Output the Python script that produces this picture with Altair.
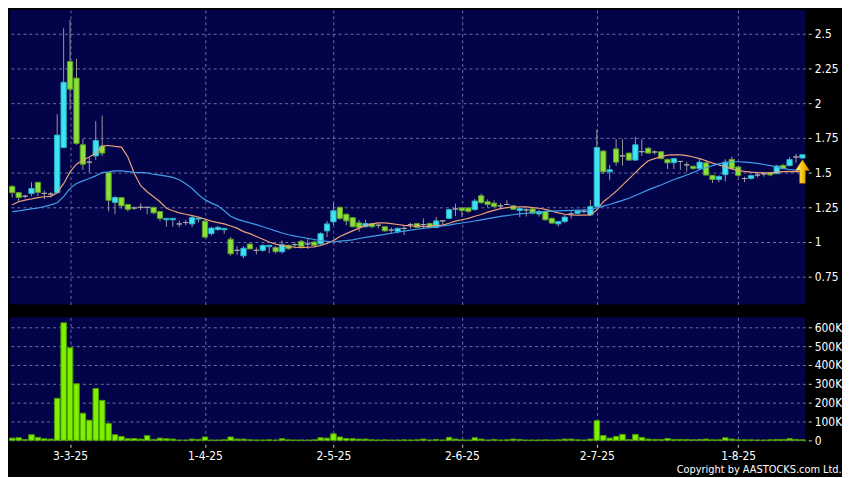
import altair as alt
import pandas as pd

# ---------------- data ----------------
opens = [1.40, 1.355, 1.33, 1.35, 1.43, 1.35, 1.345, 1.355, 1.68, 2.30,
         2.18, 1.70, 1.575, 1.62, 1.69, 1.50, 1.285, 1.32, 1.27, 1.245,
         1.25, 1.25, 1.25, 1.22, 1.16, 1.16, 1.13, 1.14, 1.13, 1.165,
         1.15, 1.06, 1.09, 1.088, 1.02, 0.94, 0.90, 0.985, 0.94, 0.94,
         0.966, 0.96, 0.93, 0.976, 0.981, 1.005, 0.986, 1.0, 0.986, 1.08,
         1.145, 1.25, 1.20, 1.175, 1.138, 1.11, 1.133, 1.121, 1.11, 1.086,
         1.075, 1.098, 1.126, 1.133, 1.126, 1.133, 1.105, 1.152, 1.17, 1.238,
         1.245, 1.245, 1.233, 1.333, 1.29, 1.28, 1.26, 1.27, 1.26, 1.226,
         1.231, 1.238, 1.202, 1.22, 1.17, 1.13, 1.148, 1.202, 1.207, 1.22,
         1.195, 1.255, 1.655, 1.505, 1.67, 1.62, 1.64, 1.59, 1.65, 1.675,
         1.648, 1.65, 1.595, 1.571, 1.58, 1.555, 1.545, 1.528, 1.57, 1.48,
         1.45, 1.485, 1.595, 1.54, 1.457, 1.458, 1.482, 1.49, 1.5, 1.492,
         1.552, 1.55, 1.612, 1.605]
highs = [1.41, 1.36, 1.34, 1.43, 1.43, 1.37, 1.36, 1.92, 2.54, 2.60,
         2.32, 1.74, 1.61, 1.87, 1.91, 1.50, 1.33, 1.32, 1.27, 1.255,
         1.28, 1.25, 1.25, 1.22, 1.17, 1.17, 1.155, 1.16, 1.188, 1.18,
         1.16, 1.11, 1.115, 1.10, 1.036, 0.969, 0.969, 0.99, 0.962, 0.985,
         0.98, 0.97, 1.01, 0.98, 1.0, 1.015, 1.02, 1.01, 1.07, 1.152,
         1.28, 1.255, 1.205, 1.18, 1.157, 1.16, 1.135, 1.133, 1.115, 1.105,
         1.105, 1.114, 1.138, 1.138, 1.17, 1.14, 1.18, 1.157, 1.24, 1.276,
         1.25, 1.25, 1.31, 1.348, 1.307, 1.30, 1.28, 1.30, 1.267, 1.245,
         1.243, 1.245, 1.233, 1.225, 1.175, 1.15, 1.195, 1.23, 1.23, 1.235,
         1.302, 1.81, 1.66, 1.555, 1.74, 1.74, 1.645, 1.757, 1.74, 1.685,
         1.66, 1.655, 1.60, 1.605, 1.585, 1.578, 1.55, 1.60, 1.59, 1.483,
         1.48, 1.595, 1.614, 1.545, 1.47, 1.485, 1.5, 1.505, 1.505, 1.555,
         1.56, 1.61, 1.635, 1.63]
lows = [1.32, 1.29, 1.315, 1.33, 1.33, 1.31, 1.32, 1.35, 1.68, 1.95,
        1.70, 1.52, 1.50, 1.59, 1.62, 1.22, 1.20, 1.24, 1.22, 1.23,
        1.23, 1.20, 1.20, 1.15, 1.11, 1.11, 1.107, 1.12, 1.107, 1.14,
        1.03, 1.045, 1.08, 1.06, 0.902, 0.907, 0.883, 0.95, 0.91, 0.93,
        0.92, 0.917, 0.917, 0.945, 0.955, 0.965, 0.95, 0.97, 0.975, 1.036,
        1.12, 1.16, 1.12, 1.105, 1.074, 1.105, 1.10, 1.098, 1.074, 1.062,
        1.062, 1.05, 1.098, 1.10, 1.098, 1.10, 1.098, 1.12, 1.165, 1.186,
        1.18, 1.21, 1.226, 1.276, 1.25, 1.25, 1.236, 1.265, 1.23, 1.18,
        1.183, 1.20, 1.183, 1.155, 1.13, 1.112, 1.136, 1.17, 1.20, 1.205,
        1.188, 1.25, 1.49, 1.445, 1.55, 1.55, 1.585, 1.585, 1.62, 1.64,
        1.63, 1.598, 1.525, 1.525, 1.519, 1.507, 1.52, 1.52, 1.48, 1.424,
        1.43, 1.436, 1.52, 1.47, 1.43, 1.45, 1.465, 1.47, 1.475, 1.49,
        1.525, 1.545, 1.57, 1.60]
closes = [1.355, 1.32, 1.33, 1.385, 1.357, 1.35, 1.345, 1.77, 2.15, 2.10,
          1.71, 1.56, 1.575, 1.73, 1.64, 1.30, 1.32, 1.26, 1.235, 1.245,
          1.25, 1.25, 1.21, 1.17, 1.17, 1.17, 1.13, 1.14, 1.175, 1.172,
          1.035, 1.10, 1.105, 1.098, 0.915, 0.94, 0.955, 0.95, 0.94, 0.975,
          0.976, 0.93, 0.98, 0.952, 0.981, 0.967, 0.986, 0.976, 1.06, 1.13,
          1.225, 1.17, 1.152, 1.11, 1.105, 1.133, 1.11, 1.121, 1.08, 1.086,
          1.098, 1.098, 1.126, 1.105, 1.126, 1.105, 1.152, 1.152, 1.233, 1.238,
          1.226, 1.221, 1.295, 1.283, 1.27, 1.255, 1.26, 1.27, 1.236, 1.24,
          1.231, 1.207, 1.219, 1.16, 1.136, 1.148, 1.179, 1.202, 1.224, 1.22,
          1.255, 1.68, 1.505, 1.52, 1.575, 1.62, 1.59, 1.70, 1.65, 1.64,
          1.648, 1.60, 1.57, 1.60, 1.58, 1.555, 1.53, 1.575, 1.482, 1.45,
          1.472, 1.575, 1.53, 1.48, 1.457, 1.478, 1.482, 1.49, 1.483, 1.547,
          1.528, 1.593, 1.612, 1.628]
volumes_k = [12, 14, 5, 30, 16, 9, 7, 223, 623, 491,
             300, 144, 107, 275, 212, 89, 30, 21, 9, 10,
             7, 25, 5, 12, 9, 7, 2, 2, 7, 5,
             18, 2, 2, 3, 18, 7, 7, 3, 2, 2,
             3, 2, 9, 3, 2, 2, 2, 3, 14, 12,
             35, 18, 10, 9, 7, 7, 3, 2, 3, 2,
             2, 3, 2, 3, 7, 2, 5, 2, 16, 7,
             3, 2, 14, 7, 2, 5, 2, 3, 7, 5,
             2, 2, 2, 3, 2, 3, 7, 7, 3, 2,
             7, 105, 26, 12, 21, 32, 5, 32, 16, 7,
             5, 5, 10, 5, 5, 5, 3, 5, 7, 3,
             3, 14, 7, 3, 3, 3, 2, 2, 3, 5,
             5, 9, 5, 3]
ma_short = [1.268, 1.29, 1.302, 1.31, 1.32, 1.326, 1.328, 1.355, 1.42, 1.505,
            1.56, 1.588, 1.612, 1.64, 1.69, 1.695, 1.688, 1.683, 1.612, 1.493,
            1.405, 1.362, 1.326, 1.29, 1.243, 1.225, 1.21, 1.2, 1.19, 1.18,
            1.165, 1.15, 1.14, 1.13, 1.115, 1.1, 1.075, 1.06, 1.04, 1.02,
            1.0, 0.985, 0.975, 0.968, 0.962, 0.96, 0.962, 0.965, 0.975, 0.99,
            1.01, 1.04, 1.06, 1.08, 1.1, 1.118, 1.13, 1.138, 1.138, 1.132,
            1.126, 1.12, 1.116, 1.114, 1.112, 1.114, 1.118, 1.122, 1.135, 1.15,
            1.16, 1.17, 1.185, 1.198, 1.215, 1.228, 1.24, 1.248, 1.252, 1.254,
            1.253, 1.248, 1.243, 1.235, 1.222, 1.21, 1.2, 1.195, 1.193, 1.193,
            1.195, 1.23, 1.29, 1.325, 1.365, 1.41, 1.455, 1.5, 1.545, 1.585,
            1.60, 1.615, 1.625, 1.628, 1.628, 1.622, 1.612, 1.60, 1.585, 1.568,
            1.555, 1.54, 1.527, 1.515, 1.508, 1.503, 1.5, 1.498, 1.498, 1.503,
            1.507, 1.508, 1.507, 1.507]
ma_long = [1.219, 1.224, 1.231, 1.238, 1.245, 1.255, 1.267, 1.283, 1.326, 1.386,
           1.421, 1.44, 1.457, 1.476, 1.5, 1.505, 1.512, 1.512, 1.507, 1.502,
           1.5, 1.498, 1.488, 1.481, 1.474, 1.465, 1.448, 1.42, 1.385, 1.34,
           1.305, 1.28, 1.26, 1.225, 1.185, 1.165, 1.15, 1.138, 1.125, 1.11,
           1.095, 1.08, 1.065, 1.052, 1.042, 1.034, 1.026, 1.018, 1.01, 1.004,
           1.0, 1.006, 1.01, 1.015, 1.025, 1.033, 1.04, 1.048, 1.055, 1.063,
           1.07, 1.078, 1.086, 1.092, 1.098, 1.104, 1.109, 1.115, 1.122, 1.13,
           1.137, 1.144, 1.151, 1.159, 1.168, 1.176, 1.184, 1.19, 1.196, 1.202,
           1.207, 1.212, 1.216, 1.22, 1.222, 1.224, 1.226, 1.228, 1.229, 1.23,
           1.232, 1.245, 1.258, 1.27, 1.285, 1.3, 1.315, 1.335, 1.355, 1.375,
           1.393, 1.41, 1.43, 1.45, 1.465, 1.482, 1.5, 1.52, 1.535, 1.55,
           1.562, 1.572, 1.578, 1.578, 1.575, 1.572, 1.566, 1.558, 1.55, 1.54,
           1.53, 1.522, 1.518, 1.518]
tick_idx = [9, 30, 50, 70, 91, 113]
tick_labels = ["3-3-25", "1-4-25", "2-5-25", "2-6-25", "2-7-25", "1-8-25"]
price_ticks = [0.75, 1.0, 1.25, 1.5, 1.75, 2.0, 2.25, 2.5]
vol_ticks = [0, 100, 200, 300, 400, 500, 600]

# ---------------- table ----------------
n = len(closes)
df = pd.DataFrame({
    "i": list(range(n)), "open": opens, "high": highs, "low": lows,
    "close": closes, "vol": volumes_k, "ma_s": ma_short, "ma_l": ma_long,
})
df["dir"] = ["up" if c > o + 1e-9 else ("down" if c < o - 1e-9 else "flat")
             for o, c in zip(opens, closes)]

NAVY = "#030349"
GRID = "#6e6ea2"
FONT = "DejaVu Sans Condensed, DejaVu Sans"
W = 802

x_scale = alt.Scale(domain=[-0.35, n - 1 + 0.45], nice=False, zero=False)
top_x_axis = alt.Axis(values=tick_idx, labels=False, ticks=False, domain=False,
                      grid=True, gridColor=GRID, gridDash=[3, 3], gridWidth=1,
                      title=None)
label_expr = " : ".join(f"datum.value == {k} ? '{t}'" for k, t in zip(tick_idx, tick_labels)) + " : ''"
bot_x_axis = alt.Axis(values=tick_idx, labelExpr=label_expr, domain=False,
                      grid=True, gridColor=GRID, gridDash=[3, 3], gridWidth=1,
                      ticks=True, tickSize=3, tickColor="#d0d0d0", offset=3,
                      labelPadding=3, labelColor="white", labelFont=FONT,
                      labelFontSize=12, title=None)

p_scale = alt.Scale(domain=[0.55, 2.671], nice=False, zero=False)
p_axis = alt.Axis(orient="right", values=price_ticks,
                  labelExpr="'' + datum.value", domain=False,
                  grid=True, gridColor=GRID, gridDash=[3, 3], gridWidth=1,
                  ticks=True, tickSize=3, tickColor="#d0d0d0", offset=3,
                  labelPadding=3, labelColor="white", labelFont=FONT,
                  labelFontSize=12, title=None)

base = alt.Chart(df)

wicks = base.mark_rule(color="#9a9a9a", strokeWidth=1).encode(
    x=alt.X("i:Q", scale=x_scale, axis=top_x_axis),
    y=alt.Y("low:Q", scale=p_scale, axis=p_axis),
    y2="high:Q",
)
bodies = base.transform_calculate(
    x0="datum.i - 0.41", x1="datum.i + 0.41"
).mark_bar(strokeWidth=1).encode(
    x=alt.X("x0:Q", scale=x_scale, axis=top_x_axis),
    x2="x1:Q",
    y=alt.Y("open:Q", scale=p_scale, axis=p_axis),
    y2="close:Q",
    fill=alt.Fill("dir:N", scale=alt.Scale(domain=["up", "down", "flat"],
                                           range=["#3ee4f2", "#8ce03a", "#a8a8a8"]),
                  legend=None),
    stroke=alt.Stroke("dir:N", scale=alt.Scale(domain=["up", "down", "flat"],
                                               range=["#2bb3cc", "#5e9e26", "#a8a8a8"]),
                      legend=None),
)
ma_s_line = base.mark_line(color="#eaa07a", strokeWidth=1.2).encode(
    x=alt.X("i:Q", scale=x_scale, axis=top_x_axis),
    y=alt.Y("ma_s:Q", scale=p_scale, axis=p_axis),
)
ma_l_line = base.mark_line(color="#3f9ee6", strokeWidth=1.2).encode(
    x=alt.X("i:Q", scale=x_scale, axis=top_x_axis),
    y=alt.Y("ma_l:Q", scale=p_scale, axis=p_axis),
)
arrow_shape = "M0,-1L0.6,-0.1L0.24,-0.1L0.24,1L-0.24,1L-0.24,-0.1L-0.6,-0.1Z"
arrow = alt.Chart(df.tail(1)).mark_point(
    shape=arrow_shape, size=560, filled=True, opacity=1,
    fill=alt.LinearGradient(gradient="linear",
                            stops=[alt.GradientStop(color="#fff6a8", offset=0),
                                   alt.GradientStop(color="#f5c000", offset=0.55),
                                   alt.GradientStop(color="#d98f00", offset=1)],
                            x1=0, x2=1, y1=0, y2=0),
    stroke="#a86c00", strokeWidth=0.6, dx=-3, dy=14,
).encode(
    x=alt.X("i:Q", scale=x_scale, axis=top_x_axis),
    y=alt.Y("ma_s:Q", scale=p_scale, axis=p_axis),
)

price = alt.layer(wicks, bodies, ma_s_line, ma_l_line, arrow).properties(
    width=W, height=297)

v_scale = alt.Scale(domain=[-5, 652], nice=False, zero=False)
v_axis = alt.Axis(orient="right", values=vol_ticks,
                  labelExpr="datum.value == 0 ? '0' : datum.value + 'K'",
                  domain=False, grid=True, gridColor=GRID, gridDash=[3, 3],
                  gridWidth=1, ticks=True, tickSize=3, tickColor="#d0d0d0",
                  offset=3, labelPadding=3, labelColor="white", labelFont=FONT,
                  labelFontSize=12, title=None)
volume = base.transform_calculate(
    x0="datum.i - 0.43", x1="datum.i + 0.43"
).mark_bar(color="#7cf200", stroke="#4f9a00", strokeWidth=1).encode(
    x=alt.X("x0:Q", scale=x_scale, axis=bot_x_axis),
    x2="x1:Q",
    y=alt.Y("vol:Q", scale=v_scale, axis=v_axis),
    y2=alt.datum(0),
).properties(width=W, height=125)

chart = alt.vconcat(price, volume, spacing=13).properties(
    padding=0,
    background="black",
    title=alt.TitleParams("Copyright by AASTOCKS.com Ltd.", orient="bottom",
                          anchor="end", color="white", fontSize=11,
                          font=FONT, fontWeight="normal", offset=3),
).configure_view(fill=NAVY, strokeWidth=0)

chart.save("out.html", embed_options={"renderer": "svg", "actions": False})
